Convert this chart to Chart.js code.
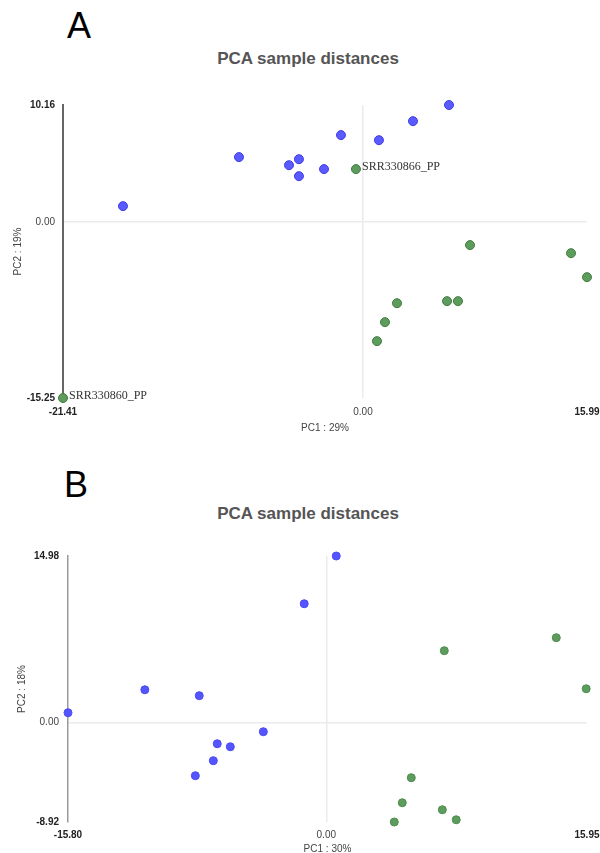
<!DOCTYPE html>
<html lang="en">
<head>
    <meta charset="UTF-8">
    <title>PCA sample distances</title>
    <script src="https://cdn.jsdelivr.net/npm/chart.js"></script>
    <style>
        body {
            margin: 0;
            width: 600px;
            height: 853px;
            overflow: hidden;
            background: #fff;
            font-family: "Liberation Sans", Arial, sans-serif;
            position: relative;
        }
        .letter {
            position: absolute;
            font-size: 36px;
            line-height: 36px;
            color: #000;
        }
        .title {
            position: absolute;
            left: 8px;
            width: 600px;
            text-align: center;
            font-size: 17px;
            line-height: 17px;
            font-weight: bold;
            color: #555;
        }
        canvas {
            position: absolute;
            left: 0;
        }
    </style>
</head>
<body>
<div class="letter" style="left:67px; top:8px;">A</div>
<div class="title" style="top:50px;">PCA sample distances</div>
<canvas id="chartA" width="600" height="440" style="top:0;"></canvas>

<div class="letter" style="left:64px; top:467px;">B</div>
<div class="title" style="top:505px;">PCA sample distances</div>
<canvas id="chartB" width="600" height="420" style="top:440px;"></canvas>

<script>
    // panel A
    const aXTicks = [-21.41, 0, 15.99];
    const aYTicks = [-15.25, 0, 10.16];
    const aBlueX = [-17.13, -8.85, -5.28, -4.57, -4.57, -2.78, -1.57, 1.14, 3.57, 6.14];
    const aBlueY = [1.39, 5.64, 4.94, 5.46, 3.99, 4.60, 7.55, 7.11, 8.76, 10.16];
    const aGreenX = [-0.50, -21.41, 7.64, 14.85, 15.99, 2.43, 1.57, 1.00, 6.00, 6.78];
    const aGreenY = [4.60, -15.25, -1.99, -2.69, -4.77, -7.03, -8.67, -10.32, -6.85, -6.85];
    const aGreenLabels = ['SRR330866_PP', 'SRR330860_PP', '', '', '', '', '', '', '', ''];

    // panel B
    const bXTicks = [-15.80, 0, 15.95];
    const bYTicks = [-8.92, 0, 14.98];
    const bBlueX = [0.61, -1.35, -15.80, -11.10, -7.77, -3.85, -6.67, -5.87, -6.91, -8.01];
    const bBlueY = [14.98, 10.69, 0.90, 2.96, 2.43, -0.81, -1.89, -2.16, -3.41, -4.76];
    const bGreenX = [7.22, 14.07, 15.90, 5.20, 4.65, 7.10, 7.95, 4.16];
    const bGreenY = [6.47, 7.64, 3.05, -4.94, -7.19, -7.82, -8.72, -8.92];

    function toPoints(xs, ys) {
        return xs.map((x, i) => ({x: x, y: ys[i]}));
    }

    const pointLabels = {
        id: 'pointLabels',
        afterDatasetsDraw(chart) {
            const ctx = chart.ctx;
            chart.data.datasets.forEach((ds, di) => {
                if (!ds.pointNames) return;
                const meta = chart.getDatasetMeta(di);
                ctx.save();
                ctx.font = '12px "Liberation Serif", "DejaVu Serif", serif';
                ctx.fillStyle = '#333';
                ctx.textBaseline = 'middle';
                ctx.textAlign = 'left';
                meta.data.forEach((pt, i) => {
                    if (ds.pointNames[i]) ctx.fillText(ds.pointNames[i], pt.x + 6, pt.y - 2);
                });
                ctx.restore();
            });
        }
    };

    function tickFont(ctx) {
        return ctx.tick && ctx.tick.value !== 0
            ? {size: 10, weight: 'bold', family: '"Liberation Sans", Arial, sans-serif'}
            : {size: 10, family: '"Liberation Sans", Arial, sans-serif'};
    }
    function tickColor(ctx) {
        return ctx.tick && ctx.tick.value !== 0 ? '#222' : '#444';
    }
    function zeroGrid(ctx) {
        return ctx.tick && ctx.tick.value === 0 ? '#ebebeb' : 'rgba(0,0,0,0)';
    }

    function makeChart(id, cfg) {
        const ctx = document.getElementById(id).getContext('2d');
        return new Chart(ctx, {
            type: 'scatter',
            data: {
                datasets: [{
                    data: toPoints(cfg.blueX, cfg.blueY),
                    backgroundColor: cfg.blueFill,
                    borderColor: cfg.blueBorder,
                    borderWidth: 1,
                    pointRadius: cfg.radius,
                    clip: false
                }, {
                    data: toPoints(cfg.greenX, cfg.greenY),
                    pointNames: cfg.greenLabels,
                    backgroundColor: cfg.greenFill,
                    borderColor: cfg.greenBorder,
                    borderWidth: 1,
                    pointRadius: cfg.radius,
                    clip: false
                }]
            },
            options: {
                responsive: false,
                animation: false,
                events: [],
                layout: {
                    autoPadding: false,
                    padding: {top: cfg.top, right: cfg.right, left: 0, bottom: 0}
                },
                plugins: {
                    legend: {display: false},
                    tooltip: {enabled: false},
                    title: {display: false}
                },
                scales: {
                    x: {
                        type: 'linear',
                        min: cfg.xTicks[0],
                        max: cfg.xTicks[2],
                        afterBuildTicks: s => { s.ticks = cfg.xTicks.map(v => ({value: v})); },
                        afterFit: s => {
                            s.height = cfg.xHeight;
                            s.paddingLeft = 0;
                            s.paddingRight = 0;
                        },
                        grid: {color: zeroGrid, lineWidth: 1.5, drawTicks: false},
                        border: {display: false},
                        ticks: {
                            padding: cfg.xPad,
                            maxRotation: 0,
                            autoSkip: false,
                            font: tickFont,
                            color: tickColor,
                            callback: v => v.toFixed(2)
                        },
                        title: {
                            display: true,
                            text: cfg.xTitle,
                            color: '#444',
                            font: {size: 10, family: '"Liberation Sans", Arial, sans-serif'},
                            padding: {top: 0, bottom: cfg.xTitlePad}
                        }
                    },
                    y: {
                        type: 'linear',
                        min: cfg.yTicks[0],
                        max: cfg.yTicks[2],
                        afterBuildTicks: s => { s.ticks = cfg.yTicks.map(v => ({value: v})); },
                        afterFit: s => {
                            s.width = cfg.yWidth;
                            s.paddingTop = 0;
                            s.paddingBottom = 0;
                        },
                        grid: {color: zeroGrid, lineWidth: 1.5, drawTicks: false},
                        border: {display: true, color: cfg.axisColor, width: cfg.axisWidth},
                        ticks: {
                            padding: cfg.yPad,
                            autoSkip: false,
                            font: tickFont,
                            color: tickColor,
                            callback: v => v.toFixed(2)
                        },
                        title: {
                            display: true,
                            text: cfg.yTitle,
                            color: '#444',
                            font: {size: 10, family: '"Liberation Sans", Arial, sans-serif'},
                            padding: {top: cfg.yTitlePad, bottom: 0}
                        }
                    }
                }
            },
            plugins: [pointLabels]
        });
    }

    makeChart('chartA', {
        blueX: aBlueX, blueY: aBlueY, greenX: aGreenX, greenY: aGreenY, greenLabels: aGreenLabels,
        xTicks: aXTicks, yTicks: aYTicks,
        xTitle: 'PC1 : 29%', yTitle: 'PC2 : 19%',
        blueFill: '#5a5aff', blueBorder: '#3d3de6', greenFill: '#5e9c5e', greenBorder: '#3f7a3f',
        radius: 4.5,
        top: 105, right: 13, yWidth: 63, xHeight: 42,
        xPad: 8, yPad: 8, xTitlePad: 6, yTitlePad: 12,
        axisColor: '#666', axisWidth: 2
    });

    makeChart('chartB', {
        blueX: bBlueX, blueY: bBlueY, greenX: bGreenX, greenY: bGreenY, greenLabels: null,
        xTicks: bXTicks, yTicks: bYTicks,
        xTitle: 'PC1 : 30%', yTitle: 'PC2 : 18%',
        blueFill: '#5555ff', blueBorder: '#4a4af0', greenFill: '#5e9c5e', greenBorder: '#4f8c4f',
        radius: 4,
        top: 116, right: 13, yWidth: 68, xHeight: 38,
        xPad: 7, yPad: 9, xTitlePad: 5, yTitlePad: 16,
        axisColor: '#999', axisWidth: 1.5
    });
</script>
</body>
</html>
